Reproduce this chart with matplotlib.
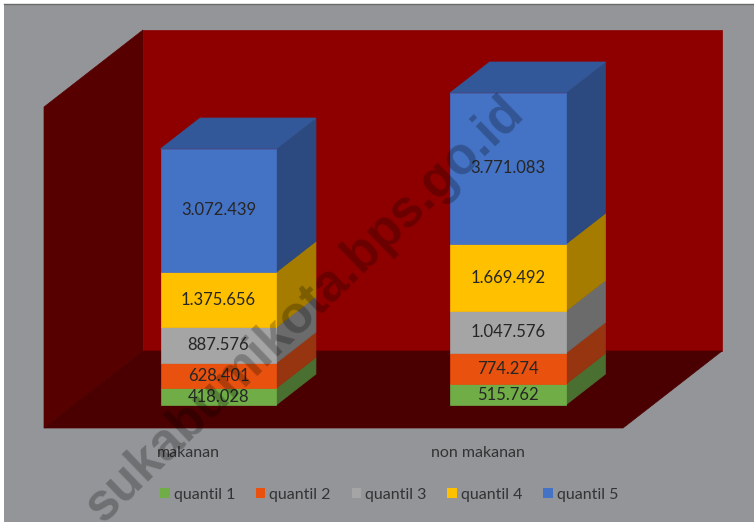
import matplotlib
matplotlib.use('Agg')
import matplotlib.pyplot as plt
from matplotlib.patches import Polygon, Patch, Rectangle
from matplotlib.lines import Line2D

# data
categories = ['makanan', 'non makanan']
series = ['quantil 1', 'quantil 2', 'quantil 3', 'quantil 4', 'quantil 5']
q1 = [418028, 515762]
q2 = [628401, 774274]
q3 = [887576, 1047576]
q4 = [1375656, 1669492]
q5 = [3072439, 3771083]
y_max = 8000000

# warna (muka depan, sisi kanan)
front_col = ['#70AD47', '#E9510E', '#A5A5A5', '#FFC000', '#4472C4']
side_col = ['#4A7031', '#963510', '#6B6B6B', '#A57C00', '#2C4A7F']
top_col = '#335899'

W, H = 754, 522
fig = plt.figure(figsize=(W / 100, H / 100), dpi=100)
fig.patch.set_facecolor('white')
fig.patches.append(Rectangle((4 / W, 0), 1, 1 - 4 / H, transform=fig.transFigure,
                             facecolor='#939598', edgecolor='none', zorder=-10))
fig.lines.append(Line2D([4 / W, 1], [1 - 3.5 / H, 1 - 3.5 / H], transform=fig.transFigure,
                        color='#6a6a6a', lw=1))

# skala: 1 kategori = 289.5 px, nilai -> px
ppc = 289.5
ppv = 321 / y_max
ax = fig.add_axes([0, 0, 1, 1])
ax.set_xlim(-44 / ppc, (W - 44) / ppc)
ax.set_ylim((428 - H) / ppv, 428 / ppv)
ax.axis('off')

# vektor kedalaman (oblique)
ddx = 99 / ppc
ddy = 77 / ppv


def sh(x, y, d):
    return (x + d * ddx, y + d * ddy)


def poly(pts, color, z):
    ax.add_patch(Polygon(pts, closed=True, facecolor=color, edgecolor=color,
                         lw=0.5, zorder=z))


n = len(categories)
# dinding belakang, kiri, lantai
poly([sh(0, 0, 1), sh(n, 0, 1), sh(n, y_max, 1), sh(0, y_max, 1)], '#8E0000', 1)
poly([sh(0, 0, 0), sh(0, y_max, 0), sh(0, y_max, 1), sh(0, 0, 1)], '#560000', 1)
poly([sh(0, 0, 0), sh(n, 0, 0), sh(n, 0, 1), sh(0, 0, 1)], '#4A0000', 2)

# batang bertumpuk
stack = [q1, q2, q3, q4, q5]
w = 0.2
d0, d1 = 0.3, 0.7
for i in range(n):
    c = i + 0.5
    base = 0
    for k, vals in enumerate(stack):
        v = vals[i]
        top = base + v
        poly([sh(c + w, base, d0), sh(c + w, base, d1), sh(c + w, top, d1), sh(c + w, top, d0)],
             side_col[k], 3)
        poly([sh(c - w, base, d0), sh(c + w, base, d0), sh(c + w, top, d0), sh(c - w, top, d0)],
             front_col[k], 4)
        if k == len(stack) - 1:
            poly([sh(c - w, top, d0), sh(c + w, top, d0), sh(c + w, top, d1), sh(c - w, top, d1)],
                 top_col, 4)
        lx, ly = sh(c, base + v / 2, d0)
        ax.text(lx, ly, f'{v:,}'.replace(',', '.'), ha='center', va='center',
                fontsize=12, color='#262626', family='Lato', zorder=6)
        base = top
    ax.annotate(categories[i], (c, 0), xytext=(0, -25), textcoords='offset pixels',
                ha='center', va='center', fontsize=11.5, color='#333333', family='Lato')

handles = [Patch(facecolor=front_col[k], edgecolor='none', label=series[k]) for k in range(5)]
leg = fig.legend(handles=handles, loc='center', bbox_to_anchor=(389 / W, 1 - 495 / H), ncol=5,
                 frameon=False, handlelength=0.6, handleheight=0.6, handletextpad=0.25,
                 columnspacing=1.3, prop={'family': 'Lato', 'size': 11.5})
for t in leg.get_texts():
    t.set_color('#333333')

# watermark
fig.text(305 / W, 1 - 310 / H, 'sukabumikota.bps.go.id', rotation=44, ha='center', va='center',
         rotation_mode='anchor', fontsize=37, fontweight='bold', family='Liberation Sans',
         color='black', alpha=0.25, zorder=20)

fig.savefig('out.png', dpi=100)
